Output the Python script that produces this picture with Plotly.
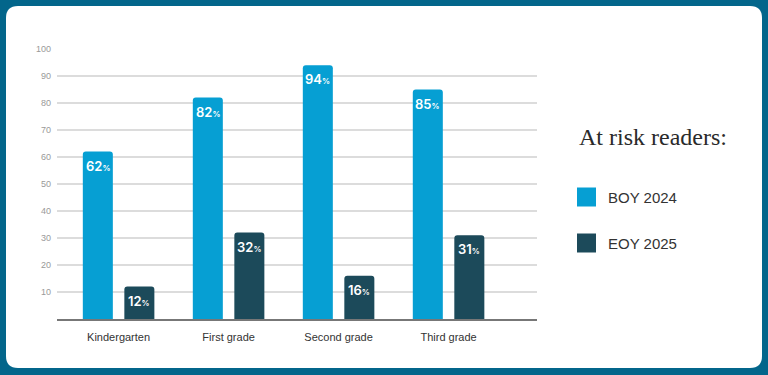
import plotly.graph_objects as go

categories = ["Kindergarten", "First grade", "Second grade", "Third grade"]
series_names = ["BOY 2024", "EOY 2025"]
boy_2024 = [62, 82, 94, 85]
eoy_2025 = [12, 32, 16, 31]
y_ticks = [10, 20, 30, 40, 50, 60, 70, 80, 90, 100]
legend_title = "At risk readers:"

colors = ["#069FD3", "#1C4A5A"]
border = "#03668B"

W, H = 768, 375
L, R, T, B = 57, 537, 49, 319  # plot area in px


def px(x):
    return (x - L) / (R - L)


def py(y):
    return (B - y) / (B - T)


def label(v):
    return f"{v}<span style='font-size:8px'>%</span>"


fig = go.Figure()
annotations = []
offsets = [-20.75, 20.75]
for name, vals, col, off in zip(series_names, [boy_2024, eoy_2025], colors, offsets):
    fig.add_trace(go.Bar(
        x=categories, y=vals, name=name,
        marker=dict(color=col, line=dict(width=0), cornerradius=3),
        showlegend=False, hoverinfo="x+y",
    ))
    for c, v in zip(categories, vals):
        annotations.append(dict(
            x=c, y=v, xref="x", yref="y", xshift=off, yshift=-14,
            xanchor="center", yanchor="middle", showarrow=False,
            text=label(v),
            font=dict(color="white", size=13, family="Inter, Roboto, sans-serif", weight=600),
        ))

# white rounded card
x0, x1, y0, y1, r = 6, 762, 6, 368, 12
path = (
    f"M {px(x0 + r)},{py(y0)} L {px(x1 - r)},{py(y0)} "
    f"Q {px(x1)},{py(y0)} {px(x1)},{py(y0 + r)} "
    f"L {px(x1)},{py(y1 - r)} Q {px(x1)},{py(y1)} {px(x1 - r)},{py(y1)} "
    f"L {px(x0 + r)},{py(y1)} Q {px(x0)},{py(y1)} {px(x0)},{py(y1 - r)} "
    f"L {px(x0)},{py(y0 + r)} Q {px(x0)},{py(y0)} {px(x0 + r)},{py(y0)} Z"
)
shapes = [dict(type="path", xref="paper", yref="paper", path=path,
               fillcolor="white", line=dict(width=0), layer="below")]

annotations.append(dict(
    x=px(577), y=py(137), xref="paper", yref="paper", xanchor="left", yanchor="middle",
    text=legend_title, showarrow=False,
    font=dict(family="Liberation Serif, serif", size=24, color="#2a2a2a"),
))

legend_y = [197, 243]
for name, col, cy in zip(series_names, colors, legend_y):
    s = 9.5
    shapes.append(dict(
        type="rect", xref="paper", yref="paper",
        x0=px(577), x1=px(577 + 2 * s), y0=py(cy + s), y1=py(cy - s),
        fillcolor=col, line=dict(width=0), layer="above",
    ))
    annotations.append(dict(
        x=px(606), y=py(cy), xref="paper", yref="paper", xanchor="left", yanchor="middle",
        text=name, showarrow=False,
        font=dict(family="Liberation Sans, Arial, sans-serif", size=15, color="#333333"),
    ))

fig.update_layout(
    width=W, height=H,
    margin=dict(l=L, r=W - R, t=T, b=H - B, pad=0),
    paper_bgcolor=border, plot_bgcolor="rgba(0,0,0,0)",
    barmode="group", bargap=0.245, bargroupgap=0.277,
    shapes=shapes, annotations=annotations,
    showlegend=False,
    xaxis=dict(
        type="category", range=[-0.56, 3.804],
        showgrid=False, showline=True, linecolor="#777777", linewidth=1.5,
        ticks="", tickfont=dict(family="Liberation Sans Narrow, Liberation Sans, sans-serif", size=11, color="#333333"),
        ticklabelstandoff=7,
        fixedrange=True,
    ),
    yaxis=dict(
        range=[0, 100], tickvals=y_ticks, ticktext=[str(t) for t in y_ticks],
        showgrid=True, gridcolor="#DCDCDC", gridwidth=1.5,
        zeroline=False, showline=False, ticks="",
        tickfont=dict(family="Liberation Sans, Arial, sans-serif", size=9, color="#999999"),
        ticklabelstandoff=5,
        fixedrange=True,
    ),
)

fig.write_html(
    "out.html",
    config={"displayModeBar": False},
    post_script="document.body.style.margin='0px';document.body.style.background='%s';" % border,
)
